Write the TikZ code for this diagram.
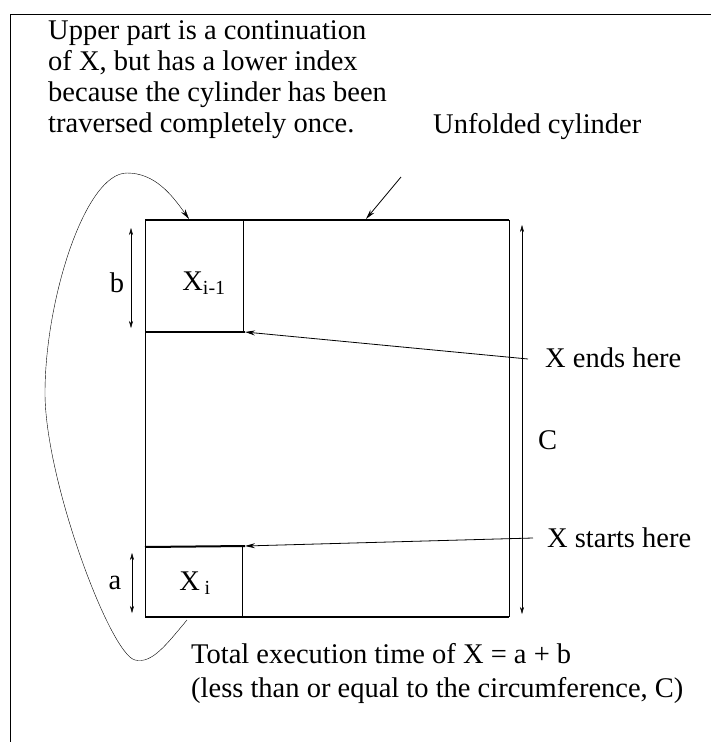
\documentclass[tikz,border=0pt]{standalone}
\usepackage{fontspec}
\setmainfont{Liberation Serif}
\usetikzlibrary{arrows.meta, positioning}

\begin{document}
\begin{tikzpicture}[
    x=1pt, y=-1pt,
    lbl/.style={inner sep=0pt, font=\fontsize{28.5}{31}\selectfont, align=left},
    arrow/.style={-{Stealth[length=10pt, width=5pt]}, thick},
    dim/.style={{Stealth[length=7pt, width=4pt]}-{Stealth[length=7pt, width=4pt]}, thin},
    edge/.style={line width=2pt},
    side/.style={line width=0.7pt}
  ]
    \useasboundingbox (0,0) rectangle (711,742);

    % outer frame (cut off at right and bottom)
    \draw[side] (10,742) -- (10,14) -- (711,14);

    % unfolded cylinder
    \coordinate (tl) at (145,220);
    \coordinate (tr) at (509,220);
    \coordinate (bl) at (145,617);
    \coordinate (br) at (509,617);
    \draw[edge] (tl) -- (tr);
    \draw[edge] (bl) -- (br);
    \draw[side] (tl) -- (bl);
    \draw[side] (tr) -- (br);

    % upper piece X_{i-1}
    \coordinate (endl) at (145,332);
    \coordinate (endr) at (245,332);
    \draw[side] (243,220) -- (243,332);
    \draw[edge] (endl) -- (endr);

    % lower piece X_i
    \coordinate (startl) at (145,547);
    \coordinate (startr) at (245,546);
    \draw[edge] (startl) -- (startr);
    \draw[side] (242,547) -- (242,617);

    \node[lbl] (xprev) at (204,283) {X\textsubscript{i-1}};
    \node[lbl] (xcur)  at (195,583) {X\,\textsubscript{i}};

    % dimensions
    \node[lbl] (lb) at (117,283) {b};
    \node[lbl] (la) at (115,583) {a};
    \draw[dim] (131,228) -- (131,328);
    \draw[dim] (132,553) -- (132,613);
    \draw[dim] (522,225) -- (522,614);
    \node[lbl, anchor=west] (cC) at (538,440) {C};

    % texts
    \node[lbl, anchor=north west] (upper) at (48,20)
      {Upper part is a continuation\\
       of X, but has a lower index\\
       because the cylinder has been\\
       traversed completely once.};
    \node[lbl, anchor=base west] (unfold) at (433,133) {Unfolded cylinder};
    \node[lbl, anchor=west] (ends)   at (545,358) {X ends here};
    \node[lbl, anchor=west] (starts) at (547,538) {X starts here};
    \node[lbl, anchor=north west, font=\fontsize{28.5}{34}\selectfont] (total) at (191,643)
      {Total execution time of X = a + b\\
       (less than or equal to the circumference, C)};

    % connectors
    \coordinate (unfoldtail) at (401,177);
    \draw[arrow] (unfoldtail) -- (366,219);
    \draw[arrow] (ends.west) ++(-17,1) -- (endr);
    \draw[arrow] (starts.west) ++(-14,0) -- (startr);

    \coordinate (loopa) at (187,620);
    \coordinate (loopb) at (189,219);
    \draw[arrow, thin] (loopa)
      .. controls (166,645) and (152,664) .. (135,660)
      .. controls (110,654) and (45,480) .. (45,393)
      .. controls (45,300) and (85,173) .. (127,173)
      .. controls (155,173) and (172,195) .. (loopb);
  \end{tikzpicture}
\end{document}
